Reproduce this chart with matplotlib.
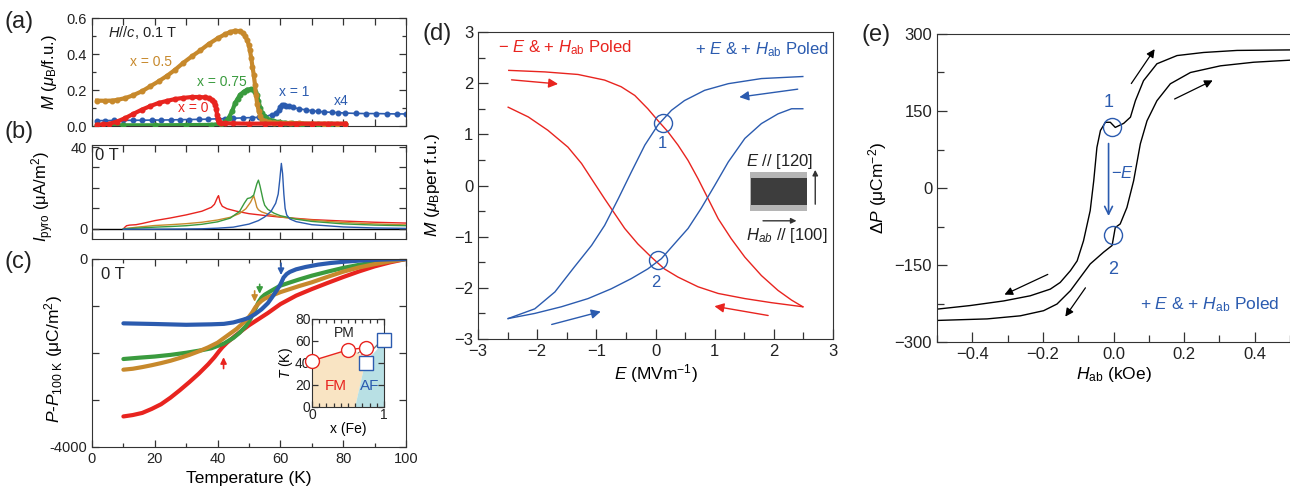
import numpy as np
import matplotlib
matplotlib.use("Agg")
import matplotlib.pyplot as plt
from matplotlib.ticker import MultipleLocator, FixedLocator

plt.rcParams['font.family'] = ['Liberation Sans', 'DejaVu Sans']
plt.rcParams['mathtext.fontset'] = 'custom'
plt.rcParams['mathtext.rm'] = 'Liberation Sans'
plt.rcParams['mathtext.it'] = 'Liberation Sans:italic'
plt.rcParams['mathtext.bf'] = 'Liberation Sans:bold'
plt.rcParams['axes.edgecolor'] = '#333333'
plt.rcParams['xtick.color'] = '#333333'
plt.rcParams['ytick.color'] = '#333333'
plt.rcParams['xtick.labelcolor'] = '#222222'
plt.rcParams['ytick.labelcolor'] = '#222222'

RED = '#e8241f'
ORANGE = '#c7892c'
GREEN = '#3a9b3e'
BLUE = '#2b5baf'

# ---- (a) M vs T, H//c 0.1 T ----
Ta_x0 = [1.6, 3.5, 5.3, 8, 10.6, 13, 15.9, 18.5, 21.2, 24, 26.5, 29, 31.8, 34, 36.1, 37.2, 38.2, 38.8, 39.3,
         39.6, 39.8, 40.1, 40.3, 41, 42.5, 45, 50, 55, 60, 65, 70, 75, 80.7]
Ma_x0 = [0.007, 0.009, 0.011, 0.025, 0.044, 0.066, 0.091, 0.11, 0.128, 0.14, 0.15, 0.156, 0.161, 0.161,
         0.159, 0.155, 0.146, 0.135, 0.119, 0.095, 0.063, 0.04, 0.022, 0.017, 0.015, 0.014, 0.013, 0.013,
         0.013, 0.013, 0.013, 0.013, 0.013]
Ta_x05 = [1.6, 4, 6.4, 8, 10.6, 13, 15.9, 18.5, 21.2, 24, 26.5, 29, 31.8, 34.5, 37.2, 40, 42.5, 44, 45.6,
          47.2, 48.2, 48.8, 49.4, 49.9, 50.3, 50.7, 51.1, 51.5, 51.9, 52.2, 52.6, 53.1, 53.6, 54.1, 55,
          56.3, 58, 60, 63, 66, 70, 74, 78, 80.7]
Ma_x05 = [0.141, 0.14, 0.141, 0.145, 0.155, 0.17, 0.193, 0.22, 0.248, 0.28, 0.313, 0.35, 0.387, 0.42,
          0.456, 0.487, 0.511, 0.522, 0.53, 0.526, 0.515, 0.498, 0.478, 0.452, 0.42, 0.378, 0.33, 0.285,
          0.23, 0.174, 0.125, 0.081, 0.055, 0.035, 0.027, 0.022, 0.019, 0.017, 0.015, 0.014, 0.013, 0.013,
          0.012, 0.012]
Ta_x075 = [1.6, 10, 20, 30, 38, 41, 42.5, 43.5, 44.6, 45.6, 46.4, 47.2, 48.3, 49.4, 50.5, 51.5, 52, 52.5,
           53, 53.6, 54.1, 54.7, 55.5, 56.3, 57.8, 59.4, 61.5, 63.7, 67, 72, 76, 80.7]
Ma_x075 = [0.004, 0.004, 0.004, 0.005, 0.006, 0.012, 0.025, 0.044, 0.081, 0.128, 0.152, 0.174, 0.19,
           0.202, 0.205, 0.202, 0.19, 0.174, 0.14, 0.1, 0.075, 0.054, 0.043, 0.035, 0.028, 0.022, 0.018,
           0.015, 0.012, 0.011, 0.01, 0.01]
Ta_x1 = [1.6, 4, 7, 10, 13, 16, 19, 22, 25, 28, 31, 34, 37, 40, 42.5, 45, 48, 51, 53.1, 55, 57.3, 58.5,
         59.4, 60, 60.5, 61, 61.8, 62.6, 64, 65.8, 68, 70, 72, 74, 76.4, 78.5, 80.7, 84, 87.2, 90.5, 93.8,
         97, 100]
Ma_x1 = [0.03, 0.03, 0.031, 0.031, 0.032, 0.032, 0.033, 0.033, 0.034, 0.035, 0.036, 0.037, 0.038, 0.04,
         0.041, 0.043, 0.045, 0.047, 0.048, 0.052, 0.063, 0.075, 0.091, 0.105, 0.119, 0.116, 0.112, 0.109,
         0.103, 0.096, 0.09, 0.085, 0.081, 0.078, 0.076, 0.074, 0.072, 0.07, 0.069, 0.069, 0.068, 0.067,
         0.067]

# ---- (b) pyroelectric current ----
Tb_x0 = [10, 10.5, 11, 12, 14, 16, 18, 20, 25, 30, 35, 38, 39, 40, 40.3, 40.8, 41.5, 43, 46, 50, 55, 60, 70,
         80, 90, 100]
Ib_x0 = [0, 0.8, 1.5, 1.8, 2.0, 2.6, 3.3, 4.0, 5.3, 6.8, 8.6, 10.5, 12, 15.5, 16.2, 13, 11, 9.8, 8.6, 7.4,
         6.5, 5.7, 4.5, 3.8, 3.2, 2.8]
Tb_x05 = [10, 15, 20, 25, 30, 35, 40, 44, 47, 49, 50.5, 51.5, 52, 52.5, 53, 54, 56, 60, 65, 70, 80, 90, 100]
Ib_x05 = [0, 0.9, 1.6, 2.0, 2.5, 3.2, 4.3, 5.6, 7.5, 9.8, 13, 16.2, 13.5, 10.5, 9.3, 8.3, 7.2, 5.8, 4.9,
          4.2, 3.1, 2.4, 1.9]
Tb_x075 = [10, 15, 20, 25, 30, 35, 40, 44, 47, 48.5, 49.5, 50.5, 51.5, 52.5, 53, 53.5, 54, 54.5, 55, 56, 58,
           60, 65, 70, 80, 90, 100]
Ib_x075 = [0, 0.4, 0.8, 1.1, 1.5, 2.2, 3.4, 5.2, 8.5, 12.5, 14.8, 15.2, 16.5, 22, 23.8, 21, 17.5, 14, 11.5,
           9.5, 7.6, 6.4, 4.7, 3.6, 2.4, 1.8, 1.5]
Tb_x1 = [10, 20, 30, 35, 40, 45, 50, 53, 55, 57, 58.5, 59.3, 59.8, 60.3, 60.7, 61.1, 61.5, 62, 63, 65, 70,
         80, 90, 100]
Ib_x1 = [-0.2, -0.2, -0.1, 0.0, 0.3, 0.8, 2.3, 4.0, 5.8, 8.5, 12.5, 17, 24, 32, 27, 17, 10, 6.8, 4.8, 3.5,
         2.0, 0.9, 0.4, 0.2]

# ---- (c) P - P(100 K) ----
Tc_x1 = [10, 20, 30, 38, 42, 45, 48, 50, 52, 54, 56, 57.5, 59, 60, 60.5, 61, 62, 63, 65, 68, 72, 76, 80, 85,
         90, 95, 100]
Pc_x1 = [-1369, -1383, -1400, -1390, -1380, -1350, -1295, -1250, -1170, -1070, -940, -800, -650, -540,
         -470, -395, -320, -275, -220, -170, -120, -85, -60, -35, -18, -7, 0]
Tc_x075 = [10, 15, 20, 25, 30, 35, 38, 42, 45, 47, 49, 50.5, 52, 53, 54, 55, 57, 60, 63, 66, 70, 75, 80, 85,
           90, 95, 100]
Pc_x075 = [-2128, -2100, -2075, -2040, -1995, -1940, -1900, -1800, -1680, -1570, -1430, -1270, -1064, -920,
           -820, -760, -680, -567, -500, -435, -355, -270, -190, -125, -70, -30, 0]
Tc_x05 = [10, 13, 16, 19, 22, 25, 28, 31, 34, 37, 40, 43, 46, 48, 50, 51, 52, 53, 54, 55, 57, 60, 63, 66, 70,
          75, 80, 85, 90, 95, 100]
Pc_x05 = [-2355, -2335, -2300, -2260, -2215, -2165, -2105, -2040, -1965, -1880, -1780, -1635, -1490, -1370,
          -1230, -1140, -1030, -950, -890, -845, -785, -705, -640, -575, -496, -380, -270, -180, -110, -50, 0]
Tc_x0 = [10, 13, 16, 19, 22, 25, 28, 31, 34, 37, 39, 40.5, 41.5, 43, 45.5, 48, 50, 53, 56, 60, 65, 70, 75,
         80, 85, 90, 95, 100]
Pc_x0 = [-3350, -3320, -3275, -3190, -3090, -2950, -2790, -2620, -2440, -2240, -2090, -1960, -1880, -1780,
         -1640, -1510, -1410, -1280, -1150, -960, -780, -640, -510, -384, -265, -157, -70, 0]

# inset phase diagram
ph_x_fm = [0, 0.5, 0.75]
ph_T_fm = [42, 52, 54]
ph_x_af = [0.75, 1.0]
ph_T_af = [40, 61]
fm_x = [0, 0, 0.5, 0.7, 0.72, 0.6]
fm_T = [0, 42, 52, 49, 35, 0]
af_x = [0.6, 0.72, 0.8, 0.9, 1.0, 1.0]
af_T = [0, 35, 45, 52, 60, 0]
hatch_x = [0.62, 0.72, 0.88, 0.97, 0.8]
hatch_T = [49, 53, 57, 59, 45]

# ---- (d) M vs E ----
Ed_red_up = [-2.48, -1.87, -1.31, -0.86, -0.58, -0.35, -0.13, 0.04, 0.21, 0.38, 0.55, 0.72, 0.89, 1.06,
             1.28, 1.51, 1.79, 2.07, 2.30, 2.49]
Md_red_up = [2.25, 2.22, 2.17, 2.06, 1.93, 1.76, 1.50, 1.27, 1.05, 0.79, 0.49, 0.13, -0.26, -0.65, -1.04,
             -1.40, -1.76, -2.05, -2.24, -2.37]
Ed_red_lo = [-2.49, -2.15, -1.82, -1.48, -1.25, -1.03, -0.86, -0.69, -0.52, -0.30, -0.07, 0.15, 0.38, 0.72,
             1.06, 1.51, 1.96, 2.49]
Md_red_lo = [1.53, 1.34, 1.08, 0.75, 0.43, 0.04, -0.26, -0.55, -0.84, -1.14, -1.40, -1.63, -1.79, -1.98,
             -2.11, -2.21, -2.29, -2.37]
Ed_blue_lo = [-2.49, -2.04, -1.59, -1.14, -0.75, -0.41, -0.13, 0.10, 0.32, 0.55, 0.77, 1.0, 1.23, 1.51,
              1.79, 2.07, 2.30, 2.49]
Md_blue_lo = [-2.60, -2.50, -2.37, -2.21, -2.02, -1.82, -1.63, -1.43, -1.14, -0.84, -0.45, 0.0, 0.46, 0.92,
              1.21, 1.40, 1.50, 1.50]
Ed_blue_up = [-2.49, -2.04, -1.70, -1.37, -1.08, -0.86, -0.63, -0.41, -0.18, 0.04, 0.27, 0.49, 0.83, 1.23,
              1.79, 2.49]
Md_blue_up = [-2.60, -2.41, -2.08, -1.59, -1.17, -0.78, -0.26, 0.26, 0.79, 1.18, 1.47, 1.66, 1.86, 1.99,
              2.09, 2.13]
circ_d_E = [0.12, 0.04]
circ_d_M = [1.23, -1.46]

# ---- (e) dP vs H ----
He_up = [-0.5, -0.406, -0.311, -0.236, -0.179, -0.151, -0.122, -0.103, -0.085, -0.066, -0.056, -0.047,
         -0.037, -0.023, -0.009, 0.005, 0.029, 0.048, 0.062, 0.085, 0.123, 0.18, 0.255, 0.35, 0.5]
Pe_up = [-236, -229, -220, -210, -197, -184, -161, -142, -103, -44, 14, 79, 112, 128, 128, 118, 126, 138,
         170, 209, 242, 258, 264, 268, 269]
He_lo = [-0.5, -0.358, -0.264, -0.198, -0.16, -0.122, -0.094, -0.066, -0.028, -0.004, 0.005, 0.019, 0.038,
         0.057, 0.076, 0.095, 0.123, 0.161, 0.218, 0.303, 0.397, 0.5]
Pe_lo = [-258, -255, -249, -239, -226, -200, -174, -148, -125, -112, -77, -70, -38, 14, 86, 131, 170, 203,
         225, 238, 245, 249]
circ_e_H = [-0.004, -0.002]
circ_e_P = [119, -92]

W, H = 1290, 493
fig = plt.figure(figsize=(W / 100, H / 100), dpi=100)


def ax_px(l, t, r, b):
    return fig.add_axes([l / W, 1 - b / H, (r - l) / W, (b - t) / H])


def style_ticks(ax, allsides=True):
    ax.tick_params(which='both', direction='in', top=allsides, right=allsides, labelsize=10.5, width=0.9)
    ax.tick_params(which='major', length=5)
    ax.tick_params(which='minor', length=3)


# (a)
axa = ax_px(92, 18, 406, 126)
axa.plot(Ta_x1, Ma_x1, '-o', color=BLUE, ms=3.3, lw=1.2, zorder=2)
axa.plot(Ta_x075, Ma_x075, '-o', color=GREEN, ms=3.3, lw=3.0, zorder=3)
axa.plot(Ta_x05, Ma_x05, '-o', color=ORANGE, ms=3.3, lw=3.0, zorder=3)
axa.plot(Ta_x0, Ma_x0, '-o', color=RED, ms=3.3, lw=3.0, zorder=4)
axa.set_xlim(0, 100)
axa.set_ylim(0, 0.6)
axa.xaxis.set_major_locator(MultipleLocator(10))
axa.yaxis.set_major_locator(MultipleLocator(0.2))
axa.yaxis.set_minor_locator(MultipleLocator(0.1))
axa.set_xticklabels([])
style_ticks(axa)
axa.set_ylabel(r'$M$ ($\mu_\mathrm{B}$/f.u.)', fontsize=12)
axa.yaxis.set_label_coords(-0.105, 0.5)
axa.text(5, 0.52, r'$H$//$c$, 0.1 T', fontsize=10.5, color='#222222', va='center')
axa.text(12, 0.355, 'x = 0.5', color=ORANGE, fontsize=10, va='center')
axa.text(33.5, 0.245, 'x = 0.75', color=GREEN, fontsize=10, va='center')
axa.text(27.5, 0.10, 'x = 0', color=RED, fontsize=10, va='center')
axa.text(59.5, 0.19, 'x = 1', color=BLUE, fontsize=10, va='center')
axa.text(77, 0.14, 'x4', color=BLUE, fontsize=10, va='center')

# (b)
axb = ax_px(92, 145, 406, 239)
axb.axhline(0, color='black', lw=1.0, zorder=1)
axb.plot(Tb_x0, Ib_x0, color=RED, lw=1.0)
axb.plot(Tb_x05, Ib_x05, color=ORANGE, lw=1.0)
axb.plot(Tb_x075, Ib_x075, color=GREEN, lw=1.0)
axb.plot(Tb_x1, Ib_x1, color=BLUE, lw=1.0)
axb.set_xlim(0, 100)
axb.set_ylim(-5, 41)
axb.xaxis.set_major_locator(MultipleLocator(10))
axb.yaxis.set_major_locator(FixedLocator([0, 40]))
axb.yaxis.set_minor_locator(FixedLocator([10, 20, 30]))
axb.set_xticklabels([])
style_ticks(axb)
axb.tick_params(which='minor', length=5)
axb.set_ylabel(r'$I_{\mathrm{pyro}}$ (μA/m$^2$)', fontsize=12)
axb.yaxis.set_label_coords(-0.115, 0.45)
axb.text(1, 36, '0 T', fontsize=12, va='center', color='#222222')

# (c)
axc = ax_px(92, 259, 406, 447)
axc.plot(Tc_x0, Pc_x0, color=RED, lw=3.0, solid_capstyle='round')
axc.plot(Tc_x075, Pc_x075, color=GREEN, lw=3.0, solid_capstyle='round')
axc.plot(Tc_x05, Pc_x05, color=ORANGE, lw=3.0, solid_capstyle='round')
axc.plot(Tc_x1, Pc_x1, color=BLUE, lw=3.0, solid_capstyle='round')
axc.set_xlim(0, 100)
axc.set_ylim(-4000, 0)
axc.xaxis.set_major_locator(MultipleLocator(20))
axc.xaxis.set_minor_locator(MultipleLocator(10))
axc.yaxis.set_major_locator(FixedLocator([-4000, 0]))
axc.yaxis.set_minor_locator(FixedLocator([-3000, -2000, -1000]))
axc.set_yticklabels(['-4000', '0'])
style_ticks(axc)
axc.tick_params(axis='y', which='minor', length=5)
axc.set_xlabel('Temperature (K)', fontsize=12.5)
axc.set_ylabel(r'$P$-$P_{\mathrm{100\ K}}$ (μC/m$^2$)', fontsize=12.5)
axc.yaxis.set_label_coords(-0.085, 0.47)
axc.text(3, -330, '0 T', fontsize=12, va='center', color='#222222')
for xa, y0, y1, c in [(60.2, -30, -400, BLUE), (53.4, -480, -800, GREEN), (51.8, -620, -970, ORANGE),
                      (41.9, -2390, -2030, RED)]:
    axc.annotate('', xy=(xa, y1), xytext=(xa, y0),
                 arrowprops=dict(arrowstyle='-|>', color=c, lw=1.2, mutation_scale=9))

# inset
axi = ax_px(312, 319, 384, 407)
axi.fill(fm_x, fm_T, color='#f9e4c3', lw=0)
axi.fill(af_x, af_T, color='#b8e0e4', lw=0)
axi.fill(hatch_x, hatch_T, facecolor='white', edgecolor='#777777', hatch='//////', lw=0)
axi.plot(ph_x_fm, ph_T_fm, '-o', color=RED, mfc='white', ms=10, lw=1.0, mew=1.0, clip_on=False, zorder=5)
axi.plot(ph_x_af, ph_T_af, 's', color=BLUE, mfc='white', ms=10, mew=1.0, clip_on=False, zorder=5)
axi.set_xlim(0, 1)
axi.set_ylim(0, 80)
axi.xaxis.set_major_locator(FixedLocator([0, 1]))
axi.xaxis.set_minor_locator(MultipleLocator(0.1))
axi.yaxis.set_major_locator(MultipleLocator(20))
style_ticks(axi)
axi.tick_params(labelsize=10, pad=1)
axi.tick_params(which='major', length=4)
axi.tick_params(which='minor', length=3)
axi.set_xlabel('x (Fe)', fontsize=10, labelpad=0)
axi.set_ylabel(r'$T$ (K)', fontsize=10, labelpad=0)
axi.text(0.3, 67, 'PM', fontsize=10, color='#222222', va='center')
axi.text(0.18, 19, 'FM', fontsize=11, color=RED, va='center')
axi.text(0.67, 19, 'AF', fontsize=11, color=BLUE, va='center')

# (d)
axd = ax_px(478, 32, 833, 339)
axd.plot(Ed_red_up, Md_red_up, color=RED, lw=1.0)
axd.plot(Ed_red_lo, Md_red_lo, color=RED, lw=1.0)
axd.plot(Ed_blue_lo, Md_blue_lo, color=BLUE, lw=1.0)
axd.plot(Ed_blue_up, Md_blue_up, color=BLUE, lw=1.0)
axd.plot(circ_d_E, circ_d_M, 'o', mfc='none', mec=BLUE, ms=13, mew=1.0)
axd.set_xlim(-3, 3)
axd.set_ylim(-3, 3)
axd.xaxis.set_major_locator(MultipleLocator(1))
axd.xaxis.set_minor_locator(MultipleLocator(0.5))
axd.yaxis.set_major_locator(MultipleLocator(1))
axd.yaxis.set_minor_locator(MultipleLocator(0.5))
style_ticks(axd, allsides=False)
axd.tick_params(labelsize=12)
axd.tick_params(which='major', length=7)
axd.tick_params(which='minor', length=5)
axd.set_xlabel(r'$E$ (MVm$^{-1}$)', fontsize=12.5, labelpad=2)
axd.set_ylabel(r'$M$ ($\mu_\mathrm{B}$per f.u.)', fontsize=12.5)
axd.yaxis.set_label_coords(-0.1, 0.5)
axd.text(-2.66, 2.7, r'$-$ $E$ & + $H_{\mathrm{ab}}$ Poled', color=RED, fontsize=12, va='center')
axd.text(2.92, 2.66, r'+ $E$ & + $H_{\mathrm{ab}}$ Poled', color=BLUE, fontsize=12, va='center', ha='right')
axd.text(0.12, 0.82, '1', color=BLUE, fontsize=12, ha='center', va='center')
axd.text(0.0, -1.9, '2', color=BLUE, fontsize=12, ha='center', va='center')
for (x0, y0, x1, y1, c) in [(-2.48, 2.07, -1.6, 1.98, RED), (1.95, -2.55, 0.95, -2.35, RED),
                            (2.45, 1.89, 1.37, 1.72, BLUE), (-1.8, -2.73, -0.88, -2.45, BLUE)]:
    axd.annotate('', xy=(x1, y1), xytext=(x0, y0),
                 arrowprops=dict(arrowstyle='-|>', color=c, lw=1.0, mutation_scale=14))
axd.add_patch(plt.Rectangle((1.6, -0.49), 0.96, 0.75, facecolor='#b5b5b5', edgecolor='none'))
axd.add_patch(plt.Rectangle((1.61, -0.38), 0.95, 0.52, facecolor='#3d3d3d', edgecolor='none'))
axd.annotate('', xy=(2.7, 0.36), xytext=(2.7, -0.42),
             arrowprops=dict(arrowstyle='-|>', color='#333333', lw=1.0, mutation_scale=8))
axd.annotate('', xy=(2.43, -0.69), xytext=(1.77, -0.69),
             arrowprops=dict(arrowstyle='-|>', color='#333333', lw=1.0, mutation_scale=8))
axd.text(1.53, 0.47, r'$E$ // [120]', fontsize=12, color='#222222', va='center')
axd.text(1.53, -0.97, r'$H_{ab}$ // [100]', fontsize=12, color='#222222', va='center')

# (e)
axe = ax_px(937, 34, 1290, 342)
axe.plot(He_up, Pe_up, color='black', lw=1.0)
axe.plot(He_lo, Pe_lo, color='black', lw=1.0)
axe.plot(circ_e_H, circ_e_P, 'o', mfc='none', mec=BLUE, ms=13, mew=1.0)
axe.set_xlim(-0.5, 0.5)
axe.set_ylim(-300, 300)
axe.xaxis.set_major_locator(MultipleLocator(0.2))
axe.xaxis.set_minor_locator(MultipleLocator(0.1))
axe.yaxis.set_major_locator(MultipleLocator(150))
axe.yaxis.set_minor_locator(MultipleLocator(75))
style_ticks(axe, allsides=False)
axe.tick_params(labelsize=12)
axe.tick_params(which='major', length=7)
axe.tick_params(which='minor', length=5)
axe.spines['right'].set_visible(False)
axe.set_xlabel(r'$H_{\mathrm{ab}}$ (kOe)', fontsize=12.5, labelpad=2)
axe.set_ylabel(r'$\Delta P$ (μCm$^{-2}$)', fontsize=12.5)
axe.yaxis.set_label_coords(-0.135, 0.5)
axe.annotate('', xy=(-0.014, -60), xytext=(-0.014, 92),
             arrowprops=dict(arrowstyle='->', color=BLUE, lw=1.2, mutation_scale=14))
axe.text(-0.008, 30, r'$-E$', color=BLUE, fontsize=12, va='center')
axe.text(-0.013, 166, '1', color=BLUE, fontsize=13, ha='center', va='center')
axe.text(0.0, -159, '2', color=BLUE, fontsize=13, ha='center', va='center')
axe.text(0.47, -228, r'+ $E$ & + $H_{\mathrm{ab}}$ Poled', color=BLUE, fontsize=12.5, ha='right',
         va='center')
for (x0, y0, x1, y1) in [(0.046, 199, 0.121, 275), (0.166, 171, 0.288, 212),
                         (-0.179, -166, -0.316, -210), (-0.075, -190, -0.141, -255)]:
    axe.annotate('', xy=(x1, y1), xytext=(x0, y0),
                 arrowprops=dict(arrowstyle='-|>', color='black', lw=0.9, mutation_scale=12))

# panel labels
for lbl, x, y in [('(a)', 4, 22), ('(b)', 4, 132), ('(c)', 4, 262), ('(d)', 423, 34), ('(e)', 861, 35)]:
    fig.text(x / W, 1 - y / H, lbl, fontsize=17, va='center', ha='left', color='#222222')

fig.savefig('out.png', dpi=100)
